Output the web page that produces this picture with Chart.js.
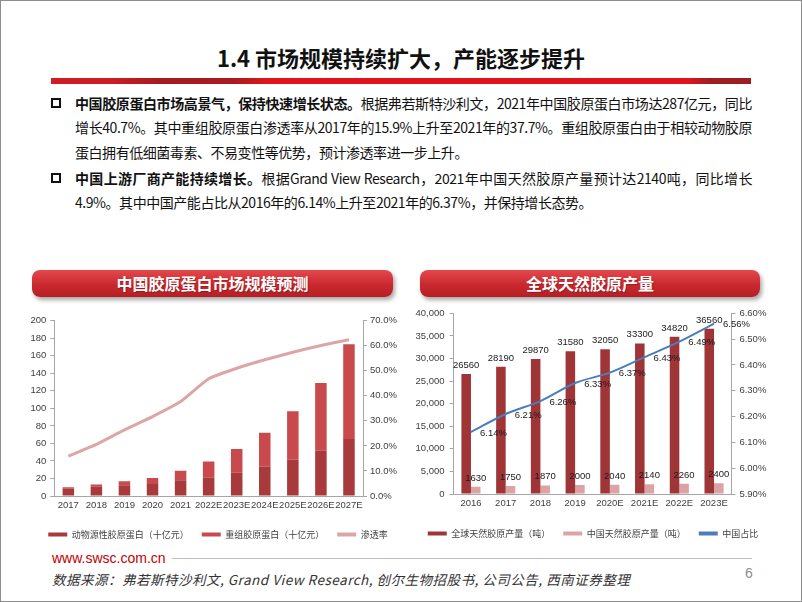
<!DOCTYPE html>
<html>
<head>
<meta charset="utf-8">
<script src="https://cdn.jsdelivr.net/npm/chart.js@4.4.1/dist/chart.umd.min.js"></script>
<style>
  body { margin: 0; background: #fff; }
  #slide { position: relative; width: 802px; height: 602px; overflow: hidden; background: #fff;
    font-family: "Noto Sans CJK SC", "Noto Sans", sans-serif; color: #111; }
  #frame { position: absolute; left: 0; top: 0; width: 802px; height: 602px; box-sizing: border-box;
    border: 1px solid #8c8c8c; pointer-events: none; z-index: 5; }
  .abs { position: absolute; }
  #title { left: 0; width: 802px; top: 43px; text-align: center; font-size: 22px; line-height: 28px; font-weight: bold; color: #111; }
  #redbar { left: 51px; top: 78px; width: 700px; height: 6px;
    background: linear-gradient(to right, #cf1d24 0%, #cf1d24 8%, #a31b1f 16%, #a91b20 26%, #e1141c 31%, #e1141c 91%, #9e1d20 94%, #9e1d20 100%); }
  .line { left: 75px; width: 677px; font-size: 14px; line-height: 24px; letter-spacing: -0.45px; white-space: nowrap; }
  .full { text-align: justify; text-align-last: justify; }
  .bullet { width: 6px; height: 6px; border: 2px solid #111; left: 51px; }
  .banner { top: 270px; height: 27px; border-radius: 8px; color: #fff; font-weight: bold; font-size: 16px;
    line-height: 27px; text-align: center;
    background: linear-gradient(#e4484c, #c9292e 55%, #b51f24);
    box-shadow: 2px 3px 4px rgba(0,0,0,0.35); text-shadow: 1px 1px 1px rgba(0,0,0,0.25); }
  canvas { position: absolute; }
  #site { left: 52px; top: 549px; font-family: "Liberation Sans", Arial, sans-serif; font-size: 14px; line-height: 18px; color: #c00000; }
  #rule { left: 172px; top: 558px; width: 580px; height: 1px; background: #bfbfbf; }
  #source { left: 52px; top: 570px; font-size: 13.5px; line-height: 18px; letter-spacing: 0.5px; font-style: italic; color: #333; white-space: nowrap; }
  #page { left: 745px; top: 565px; font-family: "Liberation Sans", Arial, sans-serif; font-size: 14px; color: #8c8c8c; }
</style>
</head>
<body>
<div id="slide">
  <div id="frame"></div>
  <div class="abs" id="title">1.4 市场规模持续扩大，产能逐步提升</div>
  <div class="abs" id="redbar"></div>

  <div class="abs bullet" style="top:98px"></div>
  <div class="abs line full" style="top:91px"><b>中国胶原蛋白市场高景气，保持快速增长状态。</b>根据弗若斯特沙利文，2021年中国胶原蛋白市场达287亿元，同比</div>
  <div class="abs line full" style="top:115px">增长40.7%。其中重组胶原蛋白渗透率从2017年的15.9%上升至2021年的37.7%。重组胶原蛋白由于相较动物胶原</div>
  <div class="abs line" style="top:140px">蛋白拥有低细菌毒素、不易变性等优势，预计渗透率进一步上升。</div>
  <div class="abs bullet" style="top:173px"></div>
  <div class="abs line full" style="top:166px"><b>中国上游厂商产能持续增长。</b>根据Grand View Research，2021年中国天然胶原产量预计达2140吨，同比增长</div>
  <div class="abs line" style="top:190px">4.9%。其中中国产能占比从2016年的6.14%上升至2021年的6.37%，并保持增长态势。</div>

  <div class="abs banner" style="left:32px;width:361px">中国胶原蛋白市场规模预测</div>
  <div class="abs banner" style="left:420px;width:340px">全球天然胶原产量</div>

  <canvas id="marketChart" width="396" height="244" style="left:20px;top:305px"></canvas>
  <canvas id="outputChart" width="386" height="248" style="left:400px;top:300px"></canvas>

  <div class="abs" id="site">www.swsc.com.cn</div>
  <div class="abs" id="rule"></div>
  <div class="abs" id="source">数据来源：弗若斯特沙利文, Grand View Research, 创尔生物招股书, 公司公告, 西南证券整理</div>
  <div class="abs" id="page">6</div>
</div>

<script>
// ---- left chart data (十亿元 / %)
const marketYears = ['2017', '2018', '2019', '2020', '2021', '2022E', '2023E', '2024E', '2025E', '2026E', '2027E'];
const animalCollagen = [8.4, 10.5, 12.3, 13.6, 17.9, 20.9, 26.6, 33.3, 41.7, 51.6, 65.1];
const recombinantCollagen = [1.6, 2.5, 4.4, 6.9, 10.8, 18.6, 27.0, 38.9, 54.9, 77.3, 107.9];
const penetrationRate = [15.9, 20.6, 26.4, 31.7, 37.7, 46.8, 51.0, 54.4, 57.4, 60.1, 62.4];

// ---- right chart data (吨 / %)
const outputYears = ['2016', '2017', '2018', '2019', '2020E', '2021E', '2022E', '2023E'];
const globalOutput = [26560, 28190, 29870, 31580, 32050, 33300, 34820, 36560];
const chinaOutput = [1630, 1750, 1870, 2000, 2040, 2140, 2260, 2400];
const chinaShare = [6.14, 6.21, 6.26, 6.33, 6.37, 6.43, 6.49, 6.56];

const numFont = '"Liberation Sans", Arial, sans-serif';
const cjkFont = '"Noto Sans CJK SC", sans-serif';
const tickColor = '#404040';
const axisColor = '#a6a6a6';

function legendOpts() {
  return {
    position: 'bottom',
    labels: {
      boxWidth: 19,
      boxHeight: 4,
      padding: 13,
      color: '#404040',
      font: { size: 9, family: cjkFont },
      // keep dataset order, not draw order
      sort: (a, b) => a.datasetIndex - b.datasetIndex,
      generateLabels(chart) {
        const items = Chart.defaults.plugins.legend.labels.generateLabels(chart);
        items.forEach((it) => { it.lineWidth = 0; });
        return items;
      },
    },
  };
}

function tickOpts(extra) {
  return Object.assign({ color: tickColor, font: { size: 9.5, family: numFont } }, extra || {});
}

// Data labels drawn at the element positions the library computed
const valueLabels = {
  id: 'valueLabels',
  afterDatasetsDraw(chart) {
    const ctx = chart.ctx;
    ctx.save();
    ctx.font = '9.5px ' + numFont;
    ctx.fillStyle = '#1a1a1a';
    chart.data.datasets.forEach((ds, i) => {
      const meta = chart.getDatasetMeta(i);
      meta.data.forEach((el, j) => {
        const v = ds.data[j];
        if (ds.type === 'line') {
          ctx.textAlign = 'left';
          ctx.textBaseline = 'middle';
          ctx.fillText(v.toFixed(2) + '%', el.x + 9, el.y + 1);
        } else {
          ctx.textAlign = 'center';
          ctx.textBaseline = 'bottom';
          ctx.fillText(String(v), el.x, el.y - 4);
        }
      });
    });
    ctx.restore();
  },
};

// 中国胶原蛋白市场规模预测
new Chart(document.getElementById('marketChart'), {
  type: 'bar',
  data: {
    labels: marketYears,
    datasets: [
      { label: '动物源性胶原蛋白（十亿元）', data: animalCollagen, backgroundColor: '#a83a3b',
        barPercentage: 0.41, categoryPercentage: 1, order: 1 },
      { label: '重组胶原蛋白（十亿元）', data: recombinantCollagen, backgroundColor: '#c94a4c',
        barPercentage: 0.41, categoryPercentage: 1, order: 1 },
      { type: 'line', label: '渗透率', data: penetrationRate, yAxisID: 'y1',
        borderColor: '#dca6a6', backgroundColor: '#dca6a6', borderWidth: 3,
        pointRadius: 0, tension: 0.15, order: 0 },
    ],
  },
  options: {
    responsive: false,
    animation: false,
    layout: { padding: { top: 15.7, left: 0, right: 0, bottom: 0 } },
    plugins: { legend: legendOpts(), tooltip: { enabled: false } },
    scales: {
      x: {
        stacked: true,
        grid: { drawOnChartArea: false, drawTicks: false },
        border: { color: axisColor },
        ticks: tickOpts({ padding: 4, maxRotation: 0, autoSkip: false }),
        afterFit(scale) { scale.height = 21; },
      },
      y: {
        stacked: true,
        min: 0,
        max: 200,
        grid: { drawOnChartArea: false, tickLength: 4, color: axisColor },
        border: { color: axisColor },
        ticks: tickOpts({ stepSize: 20, padding: 4 }),
        afterFit(scale) { scale.width = 34.3; },
      },
      y1: {
        position: 'right',
        min: 0,
        max: 70,
        grid: { drawOnChartArea: false, tickLength: 4, color: axisColor },
        border: { color: axisColor },
        ticks: tickOpts({ stepSize: 10, padding: 3, callback: (v) => v.toFixed(1) + '%' }),
        afterFit(scale) { scale.width = 53; },
      },
    },
  },
});

// 全球天然胶原产量
new Chart(document.getElementById('outputChart'), {
  type: 'bar',
  data: {
    labels: outputYears,
    datasets: [
      { label: '全球天然胶原产量（吨）', data: globalOutput, backgroundColor: '#a03538',
        barPercentage: 1, categoryPercentage: 0.55, order: 1 },
      { label: '中国天然胶原产量（吨）', data: chinaOutput, backgroundColor: '#dca3a4',
        barPercentage: 1, categoryPercentage: 0.55, order: 1 },
      { type: 'line', label: '中国占比', data: chinaShare, yAxisID: 'y1',
        borderColor: '#4a7ebb', backgroundColor: '#4a7ebb', borderWidth: 2,
        pointRadius: 0, tension: 0.3, order: 0 },
    ],
  },
  options: {
    responsive: false,
    animation: false,
    layout: { padding: { top: 13.3, left: 0, right: 0, bottom: 0 } },
    plugins: { legend: legendOpts(), tooltip: { enabled: false } },
    scales: {
      x: {
        grid: { drawOnChartArea: false, drawTicks: false },
        border: { color: axisColor },
        ticks: tickOpts({ padding: 4, maxRotation: 0, autoSkip: false }),
        afterFit(scale) { scale.height = 22; },
      },
      y: {
        min: 0,
        max: 40000,
        grid: { drawOnChartArea: false, tickLength: 4, color: axisColor },
        border: { color: axisColor },
        ticks: tickOpts({ stepSize: 5000, padding: 5, callback: (v) => v.toLocaleString('en-US') }),
        afterFit(scale) { scale.width = 53.6; },
      },
      y1: {
        position: 'right',
        min: 5.9,
        max: 6.6,
        grid: { drawOnChartArea: false, tickLength: 4, color: axisColor },
        border: { color: axisColor },
        ticks: tickOpts({ stepSize: 0.1, padding: 4, callback: (v) => v.toFixed(2) + '%' }),
        afterFit(scale) { scale.width = 54.6; },
      },
    },
  },
  plugins: [valueLabels],
});
</script>
</body>
</html>
